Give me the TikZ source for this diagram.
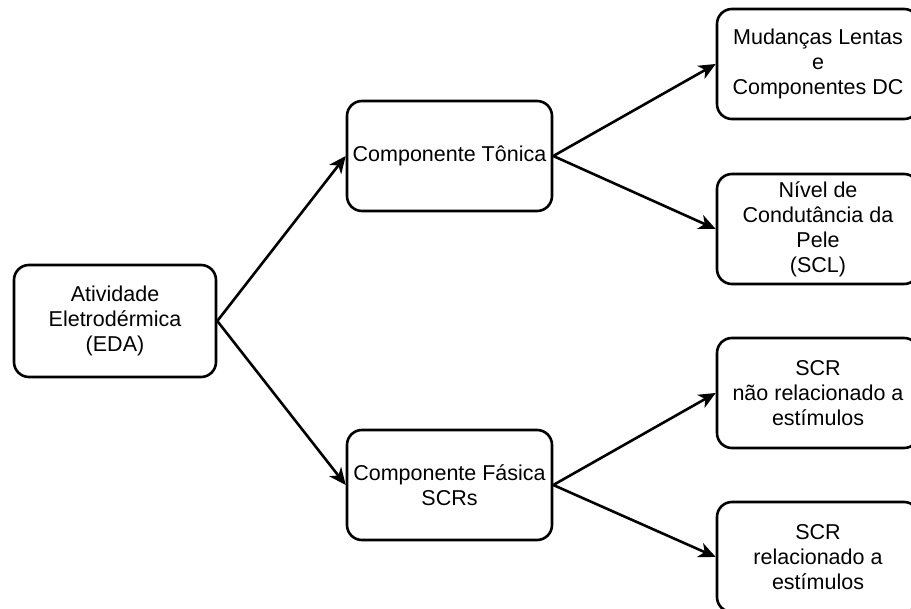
\documentclass[tikz,border=0pt]{standalone}
\usepackage{fontspec}
\setmainfont{Liberation Sans}
\usetikzlibrary{arrows.meta}
\begin{document}
\begin{tikzpicture}[x=1pt,y=-1pt,
  box/.style={draw=black, line width=2.6pt, rounded corners=15pt, fill=white,
    align=center, inner sep=2pt, minimum width=#1, minimum height=110pt,
    font=\fontsize{21.5}{25}\selectfont},
  box/.default=202pt,
  arr/.style={line width=2.6pt, -{Stealth[length=17pt,width=15pt,inset=5pt]}}]
\useasboundingbox (0,0) rectangle (911,609);
\clip (0,0) rectangle (911,609);
\node[box=202pt, minimum height=112pt] (eda) at (115,321) {Atividade\\Eletrodérmica\\(EDA)};
\node[box=205pt] (ton) at (449.5,156) {Componente Tônica};
\node[box=205pt] (fas) at (449.5,485) {Componente Fásica\\SCRs};
\node[box] (mud) at (818,64) {Mudanças Lentas\\e\\Componentes DC};
\node[box] (niv) at (818,229) {Nível de\\Condutância da\\Pele\\(SCL)};
\node[box] (nrel) at (818,393) {SCR\\não relacionado a\\estímulos};
\node[box] (rel) at (818,557) {SCR\\relacionado a\\estímulos};
\draw[arr] (eda.east) -- (ton.west);
\draw[arr] (eda.east) -- (fas.west);
\draw[arr] (ton.east) -- (mud.west);
\draw[arr] (ton.east) -- (niv.west);
\draw[arr] (fas.east) -- (nrel.west);
\draw[arr] (fas.east) -- (rel.west);
\end{tikzpicture}
\end{document}
